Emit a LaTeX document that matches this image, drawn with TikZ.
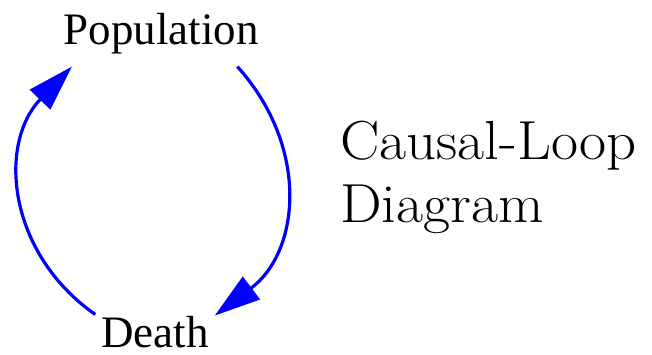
\documentclass[tikz,border=0pt]{standalone}
\usepackage{fontspec}
\usepackage{tikz}
\usetikzlibrary{arrows.meta}
\newfontfamily\varfont{Liberation Serif}
\definecolor{lblue}{HTML}{0000FF}
\newcommand{\widetext}[1]{\scalebox{1.07}[1]{#1}}

\begin{document}
\begin{tikzpicture}[x=1pt,y=1pt,
    var/.style={font=\varfont\fontsize{45}{54}\selectfont,
                inner xsep=6pt,inner ysep=12pt,outer sep=0pt,anchor=base},
    link/.style={draw=lblue,line width=3.2pt,
                 -{Triangle[length=46pt,width=28pt]},looseness=1.1}]
      \useasboundingbox (0,0) rectangle (652,354);
      \node[var] (pop) at (161,309) {Population};
      \node[var] (death) at (155,7) {Death};
      \node[font=\fontsize{55}{63}\selectfont,align=left,
            anchor=base west,inner sep=0pt] (title) at (340,132) {
        \widetext{Causal-Loop}\\\widetext{Diagram}
      };
      \draw[link] (pop.-23) to[out=-48,in=37] (death.15.6);
      \draw[link] (death.164) to[out=145,in=-134] (pop.-160);
    \end{tikzpicture}
\end{document}
